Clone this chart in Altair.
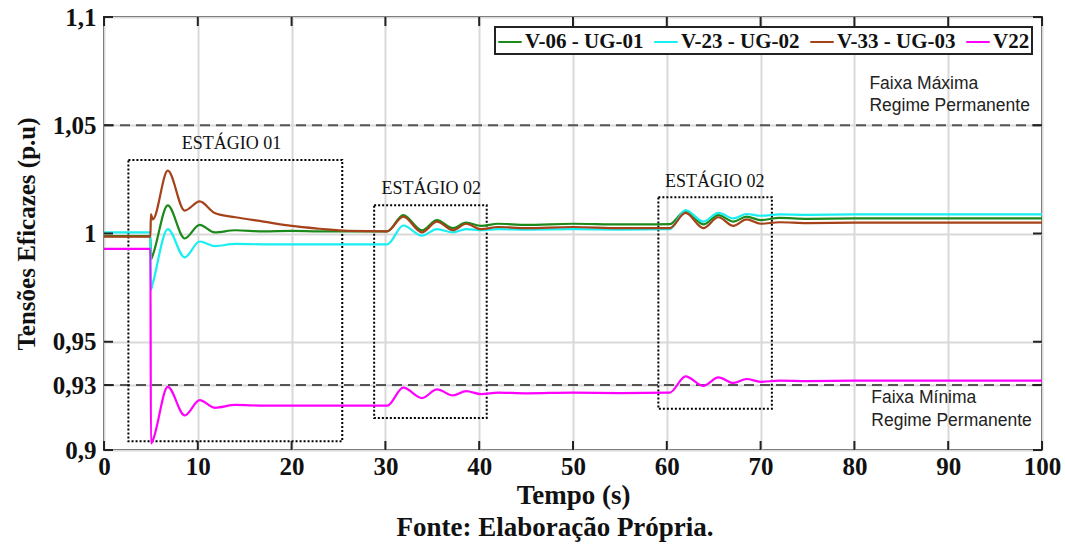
import altair as alt
import pandas as pd

# ---- data ----
t = [0, 4.95, 5.0, 5.2, 6.8, 8.6, 10.2, 11.8, 14, 17, 20, 23, 26, 30.2, 31.9, 33.9, 35.5,
     37.2, 38.6, 40.2, 42, 45, 50, 55, 60.3, 62.0, 63.9, 65.5, 67.1, 68.5, 70.0, 72, 75, 80, 90, 100]

v06 = [0.9988, 0.9988, 0.988, 0.990, 1.013, 0.9977, 1.004, 1.0005, 1.0015, 1.001, 1.0012, 1.001, 1.001,
       1.001, 1.0085, 1.0015, 1.0062, 1.0025, 1.005, 1.0035, 1.0045, 1.004, 1.0045, 1.0042, 1.0043,
       1.0105, 1.0042, 1.0085, 1.0055, 1.0078, 1.0062, 1.0072, 1.0068, 1.007, 1.007, 1.007]

v23 = [1.0005, 1.0005, 0.974, 0.977, 1.002, 0.989, 0.9963, 0.9942, 0.9952, 0.995, 0.995, 0.995, 0.995,
       0.995, 1.0037, 0.999, 1.002, 1.0005, 1.002, 1.0015, 1.002, 1.0018, 1.002, 1.0018, 1.002,
       1.0108, 1.0055, 1.0095, 1.007, 1.009, 1.0082, 1.0088, 1.0086, 1.0088, 1.0088, 1.0088]

v33 = [0.9986, 0.9986, 1.009, 1.0065, 1.029, 1.0106, 1.0148, 1.0095, 1.0075, 1.0055, 1.0035, 1.0022, 1.0012,
       1.001, 1.0078, 1.0005, 1.0055, 1.0015, 1.0045, 1.002, 1.003, 1.0025, 1.003, 1.0025, 1.0025,
       1.0095, 1.0025, 1.0075, 1.0035, 1.0065, 1.0045, 1.0052, 1.0048, 1.005, 1.005, 1.005]

v22 = [0.9929, 0.9929, 0.903, 0.9045, 0.9292, 0.916, 0.923, 0.9195, 0.9208, 0.9205, 0.9205, 0.9205, 0.9205,
       0.9205, 0.9288, 0.924, 0.928, 0.9252, 0.9272, 0.9258, 0.9265, 0.9262, 0.9265, 0.9263, 0.9265,
       0.934, 0.9296, 0.9335, 0.931, 0.9328, 0.9315, 0.932, 0.9318, 0.932, 0.932, 0.932]

series_names = ["V-06 - UG-01", "V-23 - UG-02", "V-33 - UG-03", "V22"]
series_colors = ["#1b8a1b", "#19eef0", "#a5421a", "#ff00ff"]

x_ticks = [0, 10, 20, 30, 40, 50, 60, 70, 80, 90, 100]
y_ticks = [0.9, 0.93, 0.95, 1.0, 1.05, 1.1]
limit_lines = [1.05, 0.93]

box_x1 = [2.6, 28.8, 59.1]
box_x2 = [25.4, 40.8, 71.2]
box_y1 = [0.904, 0.9148, 0.919]
box_y2 = [1.034, 1.013, 1.0167]

stage_labels = ["ESTÁGIO 01", "ESTÁGIO 02", "ESTÁGIO 02"]
stage_x = [13.6, 34.9, 65.1]
stage_y = [1.0412, 1.0204, 1.0236]

band_labels = ["Faixa Máxima", "Regime Permanente", "Faixa Mínima", "Regime Permanente"]
band_x = [81.6, 81.6, 81.8, 81.8]
band_y = [1.069, 1.0588, 0.924, 0.9134]

# ---- build tables ----
rows = []
for name, vals in zip(series_names, [v06, v23, v33, v22]):
    for ti, vi in zip(t, vals):
        rows.append({"t": ti, "v": vi, "serie": name})
df = pd.DataFrame(rows)

W, H = 938, 433
xs = alt.Scale(domain=[0, 100], nice=False)
ys = alt.Scale(domain=[0.9, 1.1], nice=False, zero=False)

serif = "Liberation Serif"
sans = "Liberation Sans"

base_x = alt.X("t:Q", scale=xs,
               axis=alt.Axis(values=x_ticks, title="Tempo (s)", grid=True, ticks=False, domain=False,
                             labelPadding=4, titlePadding=3, format="d", labelFlush=False))
base_y = alt.Y("v:Q", scale=ys,
               axis=alt.Axis(values=y_ticks, title="Tensões Eficazes (p.u)", grid=True, ticks=False,
                             domain=False, format="~g", labelExpr="replace(datum.label, '.', ',')",
                             labelPadding=8, titlePadding=13, titleFontSize=25, labelFlush=False))

lines = alt.Chart(df).mark_line(strokeWidth=2.2, interpolate="monotone", clip=True).encode(
    x=base_x, y=base_y,
    color=alt.Color("serie:N", sort=series_names,
                    scale=alt.Scale(domain=series_names, range=series_colors),
                    legend=alt.Legend(title=None, orient="top-right", direction="horizontal", columns=4,
                                      symbolType="stroke", symbolStrokeWidth=2, symbolSize=550,
                                      labelFont=serif, labelFontWeight="bold", labelFontSize=21,
                                      labelColor="#111", fillColor="white", strokeColor="#222",
                                      padding=2, offset=10, columnPadding=6, labelOffset=2,
                                      labelLimit=0)),
    order=alt.Order("t:Q"),
)

lim_df = pd.DataFrame({"v": limit_lines})
limits = alt.Chart(lim_df).mark_rule(color="#555555", strokeWidth=2, strokeDash=[10, 6]).encode(
    y=alt.Y("v:Q", scale=ys))

box_df = pd.DataFrame({"x1": box_x1, "x2": box_x2, "y1": box_y1, "y2": box_y2})
boxes = alt.Chart(box_df).mark_rect(fillOpacity=0, stroke="black", strokeWidth=2, strokeDash=[2, 2]).encode(
    x=alt.X("x1:Q", scale=xs), x2="x2:Q", y=alt.Y("y1:Q", scale=ys), y2="y2:Q")

stage_df = pd.DataFrame({"txt": stage_labels, "x": stage_x, "y": stage_y})
stages = alt.Chart(stage_df).mark_text(font=serif, fontSize=18, color="#111", align="center",
                                       baseline="middle").encode(
    x=alt.X("x:Q", scale=xs), y=alt.Y("y:Q", scale=ys), text="txt:N")

band_df = pd.DataFrame({"txt": band_labels, "x": band_x, "y": band_y})
bands = alt.Chart(band_df).mark_text(font=sans, fontSize=17.5, color="#222", align="left",
                                     baseline="middle").encode(
    x=alt.X("x:Q", scale=xs), y=alt.Y("y:Q", scale=ys), text="txt:N")

# inward ticks
yt_df = pd.DataFrame({"v": y_ticks})
xt_df = pd.DataFrame({"t": x_ticks})
tl = alt.Chart(yt_df).mark_rule(color="#222", strokeWidth=2).encode(
    y=alt.Y("v:Q", scale=ys), x=alt.value(0), x2=alt.value(9))
tr = alt.Chart(yt_df).mark_rule(color="#222", strokeWidth=2).encode(
    y=alt.Y("v:Q", scale=ys), x=alt.value(W - 9), x2=alt.value(W))
tb = alt.Chart(xt_df).mark_rule(color="#222", strokeWidth=2).encode(
    x=alt.X("t:Q", scale=xs), y=alt.value(H), y2=alt.value(H - 9))
tt = alt.Chart(xt_df).mark_rule(color="#222", strokeWidth=2).encode(
    x=alt.X("t:Q", scale=xs), y=alt.value(0), y2=alt.value(9))

foot_df = pd.DataFrame({"txt": ["Fonte: Elaboração Própria."]})
footer = alt.Chart(foot_df).mark_text(font=serif, fontSize=27, fontWeight="bold", color="#111",
                                      align="center", baseline="middle").encode(
    x=alt.value(451), y=alt.value(H + 78), text="txt:N")

chart = alt.layer(limits, boxes, lines, stages, bands, tl, tr, tb, tt, footer).properties(
    width=W, height=H,
    padding={"left": 104, "top": 17, "right": 23, "bottom": 94},
    autosize=alt.AutoSizeParams(type="none"),
).configure_view(stroke="#222", strokeWidth=2).configure_axis(
    gridColor="#d9d9d9", gridWidth=2,
    labelFont=serif, labelFontWeight="bold", labelFontSize=25, labelColor="#111",
    titleFont=serif, titleFontWeight="bold", titleFontSize=27, titleColor="#111",
).configure_legend(strokeWidth=2)

chart.save("out.html", embed_options={"renderer": "svg", "actions": False})
